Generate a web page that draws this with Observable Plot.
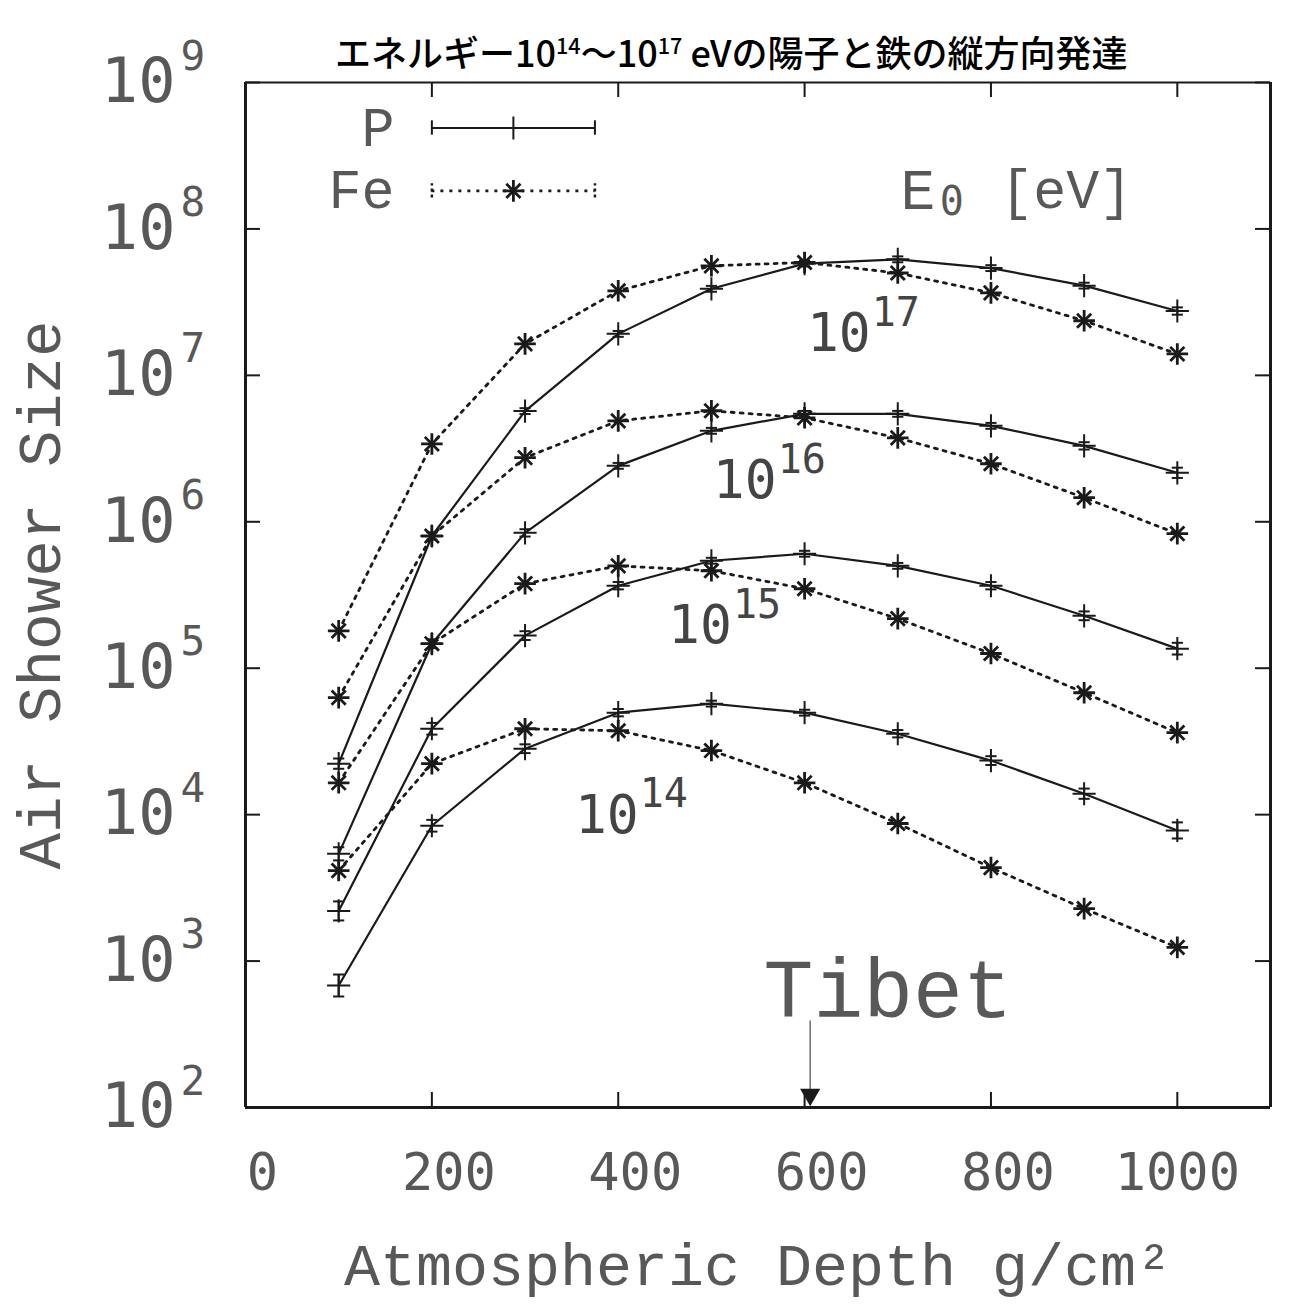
<!DOCTYPE html>
<html><head><meta charset="utf-8">
<script src="https://cdn.jsdelivr.net/npm/d3@7"></script>
<script src="https://cdn.jsdelivr.net/npm/@observablehq/plot@0.6"></script>
<style>
body{margin:0;background:#fff;}
#wrap{position:relative;width:1301px;height:1305px;}
#title{position:absolute;top:32px;left:335px;white-space:nowrap;font-family:"Noto Sans CJK JP";font-size:36px;line-height:38px;font-weight:500;color:#000;z-index:2;}
#title sup{font-size:0.6em;vertical-align:0.6em;line-height:0;}
</style></head><body>
<div id="wrap"><div id="title">エネルギー10<sup>14</sup>〜10<sup>17</sup> eVの陽子と鉄の縦方向発達</div></div>
<script>
// ---- data ----
const depths = [100, 200, 300, 400, 500, 600, 700, 800, 900, 1000];
const p14 = [681, 8.4e3, 2.82e4, 4.97e4, 5.73e4, 4.97e4, 3.57e4, 2.34e4, 1.39e4, 7.8e3];
const p15 = [2.2e3, 3.86e4, 1.67e5, 3.66e5, 5.42e5, 6.05e5, 5.0e5, 3.66e5, 2.28e5, 1.36e5];
const p16 = [5.4e3, 1.47e5, 8.4e5, 2.41e6, 4.18e6, 5.46e6, 5.46e6, 4.52e6, 3.3e6, 2.16e6];
const p17 = [2.23e4, 8.0e5, 5.7e6, 1.92e7, 3.9e7, 5.8e7, 6.2e7, 5.4e7, 4.1e7, 2.75e7];
const fe14 = [4.15e3, 2.23e4, 3.86e4, 3.74e4, 2.74e4, 1.65e4, 8.7e3, 4.35e3, 2.28e3, 1.24e3];
const fe15 = [1.65e4, 1.47e5, 3.78e5, 5.0e5, 4.63e5, 3.49e5, 2.18e5, 1.26e5, 6.8e4, 3.63e4];
const fe16 = [6.3e4, 8.0e5, 2.74e6, 4.89e6, 5.73e6, 5.13e6, 3.74e6, 2.49e6, 1.46e6, 8.3e5];
const fe17 = [1.8e5, 3.4e6, 1.64e7, 3.78e7, 5.6e7, 5.9e7, 5.0e7, 3.66e7, 2.36e7, 1.4e7];
// error half-widths of proton points (decades)
const p14Err = [0.075, 0.04, 0.03, 0.025, 0.02, 0.02, 0.025, 0.03, 0.035, 0.055];
const p15Err = [0.065, 0.04, 0.03, 0.025, 0.02, 0.02, 0.02, 0.025, 0.03, 0.04];
const p16Err = [0.045, 0.03, 0.025, 0.02, 0.02, 0.02, 0.02, 0.02, 0.025, 0.035];
const p17Err = [0.035, 0.025, 0.02, 0.02, 0.02, 0.02, 0.02, 0.02, 0.02, 0.025];

const energyExp = ["14", "15", "16", "17"];
const energyLabelDepth = [422, 522, 570, 671];
const energyLabelSize = [9.84e3, 1.95e5, 1.905e6, 1.92e7];

const decades = [1e2, 1e3, 1e4, 1e5, 1e6, 1e7, 1e8, 1e9];
const decadeExp = ["2", "3", "4", "5", "6", "7", "8", "9"];
const xTickValues = [200, 400, 600, 800, 1000];
const xLabelValues = [0, 200, 400, 600, 800];
const xLabelLast = [1000];

const legendItems = [
  {particle: "P", size: 4.89e8},
  {particle: "Fe", size: 1.82e8}
];
const legendX = [200, 375];
const legendMid = 287.5;
const tibetDepth = 606;

// ---- tables ----
const series = [
  {particle: "P", e: "14", v: p14, err: p14Err},
  {particle: "P", e: "15", v: p15, err: p15Err},
  {particle: "P", e: "16", v: p16, err: p16Err},
  {particle: "P", e: "17", v: p17, err: p17Err},
  {particle: "Fe", e: "14", v: fe14},
  {particle: "Fe", e: "15", v: fe15},
  {particle: "Fe", e: "16", v: fe16},
  {particle: "Fe", e: "17", v: fe17}
];
const rows = series.flatMap(s => depths.map((d, i) => ({
  depth: d, size: s.v[i], err: s.err ? s.err[i] : 0, particle: s.particle, key: s.particle + s.e
})));
const pRows = rows.filter(r => r.particle === "P");
const feRows = rows.filter(r => r.particle === "Fe");
const energyRows = energyExp.map((e, i) => ({exp: e, depth: energyLabelDepth[i], size: energyLabelSize[i]}));

const ink = "#1a1a1a";
const grey = "#585858";
const mono = "Liberation Mono";
const numf = "DejaVu Sans Mono";
const dots = "3,6";

const chart = Plot.plot({
  width: 1301, height: 1305,
  marginLeft: 245, marginRight: 31, marginTop: 82, marginBottom: 198,
  x: {domain: [0, 1100], axis: null},
  y: {type: "log", domain: [1e2, 1e9], axis: null},
  style: {background: "white", overflow: "visible"},
  marks: [
    // inward ticks
    Plot.tickY(decades, {y: d => d, insetRight: 1010, stroke: ink, strokeWidth: 2}),
    Plot.tickY(decades, {y: d => d, insetLeft: 1010, stroke: ink, strokeWidth: 2}),
    Plot.tickX(xTickValues, {x: d => d, insetBottom: 1010, stroke: ink, strokeWidth: 2}),
    Plot.tickX(xTickValues, {x: d => d, insetTop: 1010, stroke: ink, strokeWidth: 2}),
    // frame
    Plot.ruleX([0, 1100], {stroke: ink, strokeWidth: 3}),
    Plot.ruleY([1e2], {stroke: ink, strokeWidth: 3}),
    Plot.ruleY([1e9], {stroke: ink, strokeWidth: 2}),
    // y tick labels
    Plot.text(decades, {y: d => d, text: () => "10", frameAnchor: "left", dx: -70, textAnchor: "end", lineAnchor: "middle", fontSize: 62, fontFamily: numf, fill: grey}),
    Plot.text(decades, {y: d => d, text: (d, i) => decadeExp[i], frameAnchor: "left", dx: -65, dy: -26, textAnchor: "start", lineAnchor: "middle", fontSize: 41, fontFamily: numf, fill: grey}),
    // x tick labels
    Plot.text(xLabelValues, {x: d => d, text: d => String(d), frameAnchor: "bottom", lineAnchor: "middle", dy: 66, dx: 17, fontSize: 52, fontFamily: numf, fill: grey}),
    Plot.text(xLabelLast, {x: d => d, text: d => String(d), frameAnchor: "bottom", lineAnchor: "middle", dy: 66, fontSize: 52, fontFamily: numf, fill: grey}),
    // axis titles
    Plot.text(["Air Shower Size"], {frameAnchor: "left", dx: -205, rotate: -90, textAnchor: "middle", lineAnchor: "middle", fontSize: 61, fontFamily: mono, fill: grey}),
    Plot.text(["Atmospheric Depth g/cm²"], {frameAnchor: "bottom", lineAnchor: "middle", textAnchor: "middle", dy: 158, fontSize: 60, fontFamily: mono, fill: grey}),
    // Fe curves (dotted)
    Plot.line(feRows, {x: "depth", y: "size", z: "key", stroke: ink, strokeWidth: 2.8, strokeDasharray: dots}),
    Plot.dot(feRows, {x: "depth", y: "size", symbol: "plus", r: 7, stroke: ink, strokeWidth: 2.8}),
    Plot.dot(feRows, {x: "depth", y: "size", symbol: "times", r: 6.5, stroke: ink, strokeWidth: 2.8}),
    // P curves (solid) with error bars
    Plot.line(pRows, {x: "depth", y: "size", z: "key", stroke: ink, strokeWidth: 2.2}),
    Plot.ruleX(pRows, {x: "depth", y1: d => d.size * 10 ** -d.err, y2: d => d.size * 10 ** d.err, stroke: ink, strokeWidth: 2}),
    Plot.link(pRows, {x1: d => d.depth - 6, x2: d => d.depth + 6, y1: d => d.size * 10 ** -d.err, y2: d => d.size * 10 ** -d.err, stroke: ink, strokeWidth: 2}),
    Plot.link(pRows, {x1: d => d.depth - 6, x2: d => d.depth + 6, y1: d => d.size * 10 ** d.err, y2: d => d.size * 10 ** d.err, stroke: ink, strokeWidth: 2}),
    Plot.dot(pRows, {x: "depth", y: "size", symbol: "plus", r: 7.5, stroke: ink, strokeWidth: 2}),
    // energy labels
    Plot.text(energyRows, {x: "depth", y: "size", text: () => "10", textAnchor: "end", fontSize: 53, fontFamily: numf, fill: "#444"}),
    Plot.text(energyRows, {x: "depth", y: "size", text: "exp", textAnchor: "start", dx: 1, dy: -21, fontSize: 40, fontFamily: numf, fill: "#444"}),
    // legend
    Plot.text(legendItems, {x: 160, y: "size", text: "particle", textAnchor: "end", fontSize: 55, fontFamily: mono, fill: grey}),
    Plot.ruleY(legendItems.slice(0, 1), {y: "size", x1: legendX[0], x2: legendX[1], stroke: ink, strokeWidth: 2.2}),
    Plot.ruleX(legendX, {x: d => d, y1: legendItems[0].size / 1.12, y2: legendItems[0].size * 1.12, stroke: ink, strokeWidth: 2}),
    Plot.dot(legendItems.slice(0, 1), {x: legendMid, y: "size", symbol: "plus", r: 7.5, stroke: ink, strokeWidth: 2}),
    Plot.ruleY(legendItems.slice(1), {y: "size", x1: legendX[0], x2: legendX[1], stroke: ink, strokeWidth: 2.8, strokeDasharray: dots}),
    Plot.ruleX(legendX, {x: d => d, y1: legendItems[1].size / 1.12, y2: legendItems[1].size * 1.12, stroke: ink, strokeWidth: 2.5, strokeDasharray: "3,3"}),
    Plot.dot(legendItems.slice(1), {x: legendMid, y: "size", symbol: "plus", r: 7, stroke: ink, strokeWidth: 2.8}),
    Plot.dot(legendItems.slice(1), {x: legendMid, y: "size", symbol: "times", r: 6.5, stroke: ink, strokeWidth: 2.8}),
    // E0 [eV]
    Plot.text(legendItems.slice(1), {x: 703, y: "size", text: () => "E", textAnchor: "start", fontSize: 58, fontFamily: mono, fill: grey}),
    Plot.text(legendItems.slice(1), {x: 745, y: "size", text: () => "0", textAnchor: "start", dy: 11, fontSize: 40, fontFamily: numf, fill: grey}),
    Plot.text(legendItems.slice(1), {x: 810, y: "size", text: () => "[eV]", textAnchor: "start", fontSize: 55, fontFamily: mono, fill: grey}),
    // Tibet annotation
    Plot.text(["Tibet"], {x: 556, y: 630, textAnchor: "start", fontSize: 83, fontFamily: mono, fill: grey}),
    Plot.ruleX([tibetDepth], {x: d => d, y1: 390, y2: 130, stroke: "#777", strokeWidth: 1.6}),
    Plot.dot([tibetDepth], {x: d => d, y: 100, dy: -13, symbol: "triangle", rotate: 180, r: 7.5, fill: ink, stroke: "none"})
  ]
});
document.getElementById("wrap").appendChild(chart);
</script>
</body></html>
